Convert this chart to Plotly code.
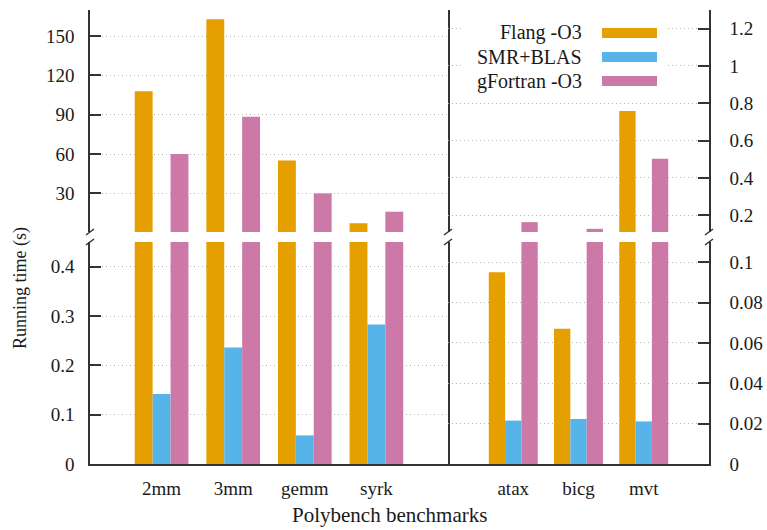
import plotly.graph_objects as go

# Benchmarks, split into the long-running (left axis) and short-running (right axis) groups
left_cats = ["2mm", "3mm", "gemm", "syrk"]
right_cats = ["atax", "bicg", "mvt"]

series_names = ["Flang -O3", "SMR+BLAS", "gFortran -O3"]
series_colors = ["#E69F00", "#56B4E9", "#CC79A7"]

# Running times in seconds
flang_left = [108.0, 163.0, 55.0, 7.2]
smr_left = [0.142, 0.236, 0.058, 0.283]
gfortran_left = [60.0, 88.5, 30.0, 16.0]

flang_right = [0.095, 0.067, 0.758]
smr_right = [0.0215, 0.0223, 0.0211]
gfortran_right = [0.163, 0.127, 0.502]

# Tick labels for the four broken-axis panels
left_top_ticks = [30, 60, 90, 120, 150]
left_bot_ticks = [0, 0.1, 0.2, 0.3, 0.4]
right_top_ticks = [0.2, 0.4, 0.6, 0.8, 1.0, 1.2]
right_bot_ticks = [0, 0.02, 0.04, 0.06, 0.08, 0.1]

W, H = 767, 530
ML, MR, MT, MB = 90, 58, 10, 66
PW, PH = W - ML - MR, H - MT - MB


def px_x(px):
    return (px - ML) / PW


def px_y(py):
    return (H - MB - py) / PH


FONT = "'Liberation Serif', 'DejaVu Serif', 'Times New Roman', serif"
INK = "#333333"
TXT = "#1a1a1a"

split_x = px_x(448)
bot_top = px_y(242)
top_bot = px_y(232)

fig = go.Figure()

left_vals = [flang_left, smr_left, gfortran_left]
right_vals = [flang_right, smr_right, gfortran_right]

# (x axis, y axis, categories, values) for each panel
panels = [
    ("x", "y", left_cats, left_vals),
    ("x2", "y2", right_cats, right_vals),
    ("x3", "y3", left_cats, left_vals),
    ("x4", "y4", right_cats, right_vals),
]
for xa, ya, cats, vals in panels:
    for name, color, v in zip(series_names, series_colors, vals):
        fig.add_trace(go.Bar(
            x=cats, y=v, name=name, xaxis=xa, yaxis=ya,
            marker=dict(color=color, line=dict(width=0)),
            showlegend=False,
        ))


def fmt(v):
    return "%g" % v


yaxis_common = dict(
    showline=True, linecolor=INK, linewidth=1.5,
    ticks="inside", ticklen=11, tickwidth=1.5, tickcolor=INK,
    showgrid=True, gridcolor="#b4b4b4", griddash="1px,3px", gridwidth=1.3,
    zeroline=False, tickfont=dict(family=FONT, size=19, color=TXT),
    automargin=False,
)
xaxis_common = dict(
    type="category", showgrid=False, zeroline=False, ticks="",
    tickfont=dict(family=FONT, size=19, color=TXT),
    automargin=False,
)

fig.update_layout(
    width=W, height=H,
    margin=dict(l=ML, r=MR, t=MT, b=MB, autoexpand=False),
    paper_bgcolor="white", plot_bgcolor="white",
    barmode="group", bargap=0.25, bargroupgap=0,
    showlegend=False,
    font=dict(family=FONT),
    xaxis=dict(domain=[0, split_x], anchor="y", range=[-1, 4],
               showline=True, linecolor=INK, linewidth=1.5,
               ticklabelstandoff=6, **xaxis_common),
    xaxis2=dict(domain=[split_x, 1], anchor="y2", range=[-1, 3],
                showline=True, linecolor=INK, linewidth=1.5,
                ticklabelstandoff=6, **xaxis_common),
    xaxis3=dict(domain=[0, split_x], anchor="y3", range=[-1, 4],
                showline=False, showticklabels=False, **xaxis_common),
    xaxis4=dict(domain=[split_x, 1], anchor="y4", range=[-1, 3],
                showline=False, showticklabels=False, **xaxis_common),
    yaxis=dict(domain=[0, bot_top], anchor="x", range=[0, 0.45], mirror=True,
               tickvals=left_bot_ticks, ticktext=[fmt(v) for v in left_bot_ticks],
               ticklabelstandoff=10, **yaxis_common),
    yaxis2=dict(domain=[0, bot_top], anchor="x2", range=[0, 0.11], side="right",
                tickvals=right_bot_ticks, ticktext=[fmt(v) for v in right_bot_ticks],
                ticklabelstandoff=15, **yaxis_common),
    yaxis3=dict(domain=[top_bot, 1], anchor="x3", range=[0.5, 170], mirror=True,
                tickvals=left_top_ticks, ticktext=[fmt(v) for v in left_top_ticks],
                ticklabelstandoff=10, **yaxis_common),
    yaxis4=dict(domain=[top_bot, 1], anchor="x4", range=[0.11, 1.30], side="right",
                tickvals=right_top_ticks, ticktext=[fmt(v) for v in right_top_ticks],
                ticklabelstandoff=15, **yaxis_common),
)

shapes = []
# Axis-break marks on the three vertical axis lines
for bx in (90, 448, 709):
    for by in (232, 242):
        shapes.append(dict(
            type="line", xref="paper", yref="paper",
            x0=px_x(bx - 4), y0=px_y(by + 3), x1=px_x(bx + 4), y1=px_y(by - 3),
            line=dict(color=INK, width=1.5),
        ))

# Key: white box, then one colour sample per series
shapes.append(dict(
    type="rect", xref="paper", yref="paper", layer="above",
    x0=px_x(462), x1=px_x(667), y0=px_y(93), y1=px_y(14),
    fillcolor="white", line=dict(width=0),
))
key_rows = [33, 57, 81]
annotations = []
for name, color, ky in zip(series_names, series_colors, key_rows):
    shapes.append(dict(
        type="rect", xref="paper", yref="paper", layer="above",
        x0=px_x(602), x1=px_x(657), y0=px_y(ky + 5), y1=px_y(ky - 5),
        fillcolor=color, line=dict(width=0),
    ))
    annotations.append(dict(
        text=name, xref="paper", yref="paper", x=px_x(584), y=px_y(ky),
        xanchor="right", yanchor="middle", showarrow=False,
        font=dict(family=FONT, size=20, color=TXT),
    ))

annotations.append(dict(
    text="Running time (s)", xref="paper", yref="paper",
    x=px_x(20), y=px_y(288), textangle=-90, showarrow=False,
    xanchor="center", yanchor="middle",
    font=dict(family=FONT, size=18, color=TXT),
))
annotations.append(dict(
    text="Polybench benchmarks", xref="paper", yref="paper",
    x=px_x(389), y=px_y(515), showarrow=False,
    xanchor="center", yanchor="middle",
    font=dict(family=FONT, size=21, color=TXT),
))

fig.update_layout(shapes=shapes, annotations=annotations)

fig.write_html("out.html")
